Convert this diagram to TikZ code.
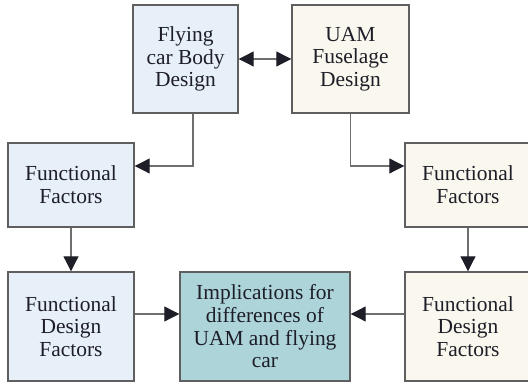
\documentclass[tikz,border=0pt]{standalone}
\usepackage{fontspec}
\setmainfont{Liberation Serif}
\usepackage{xcolor}
\definecolor{carblue}{RGB}{231,239,248}
\definecolor{uamcream}{RGB}{250,247,238}
\definecolor{impteal}{RGB}{172,212,217}
\definecolor{edgegray}{RGB}{95,95,95}
\definecolor{linegray}{RGB}{110,110,110}
\definecolor{inkdark}{RGB}{30,30,40}
\usepackage{tikz}
\usetikzlibrary{arrows.meta}

\begin{document}
\begin{tikzpicture}[
car/.style={draw=edgegray,line width=0.8pt,fill=carblue,align=center,text=inkdark,font=\fontsize{12.2}{12.9}\selectfont,inner sep=0pt},
uam/.style={car,fill=uamcream},
impl/.style={car,fill=impteal},
flow/.style={-{Triangle[length=3mm,width=3mm,color=inkdark]},draw=linegray,line width=0.6pt},
both/.style={flow,{Triangle[length=3mm,width=3mm,color=inkdark]}-{Triangle[length=3mm,width=3mm,color=inkdark]}}]
\useasboundingbox (0,0) rectangle (10.56,7.68);
\node[car,minimum width=2.1cm,minimum height=2.16cm] (body) at (3.71,6.5) {Flying\\car Body\\Design};
\node[uam,minimum width=2.34cm,minimum height=2.16cm] (fuse) at (7.01,6.5) {UAM\\Fuselage\\Design};
\node[car,minimum width=2.52cm,minimum height=1.68cm] (ffl) at (1.42,3.98) {Functional\\Factors};
\node[uam,minimum width=2.52cm,minimum height=1.68cm] (ffr) at (9.36,3.98) {Functional\\Factors};
\node[car,minimum width=2.52cm,minimum height=2.18cm] (fdl) at (1.42,1.15) {Functional\\Design\\Factors};
\node[impl,minimum width=3.4cm,minimum height=2.18cm] (imp) at (5.3,1.15) {Implications for\\differences of\\UAM and flying\\car};
\node[uam,minimum width=2.52cm,minimum height=2.18cm] (fdr) at (9.36,1.15) {Functional\\Design\\Factors};
\draw[both] (body)--(fuse);
\draw[flow] ([xshift=0.15cm]body.south) |- ([yshift=0.38cm]ffl.east);
\draw[flow] (fuse.south) |- ([yshift=0.38cm]ffr.west);
\draw[flow] (ffl)--(fdl);
\draw[flow] (ffr)--(fdr);
\draw[flow] ([yshift=0.25cm]fdl.east)--([yshift=0.25cm]imp.west);
\draw[flow] ([yshift=0.25cm]fdr.west)--([yshift=0.25cm]imp.east);
\end{tikzpicture}
\end{document}
